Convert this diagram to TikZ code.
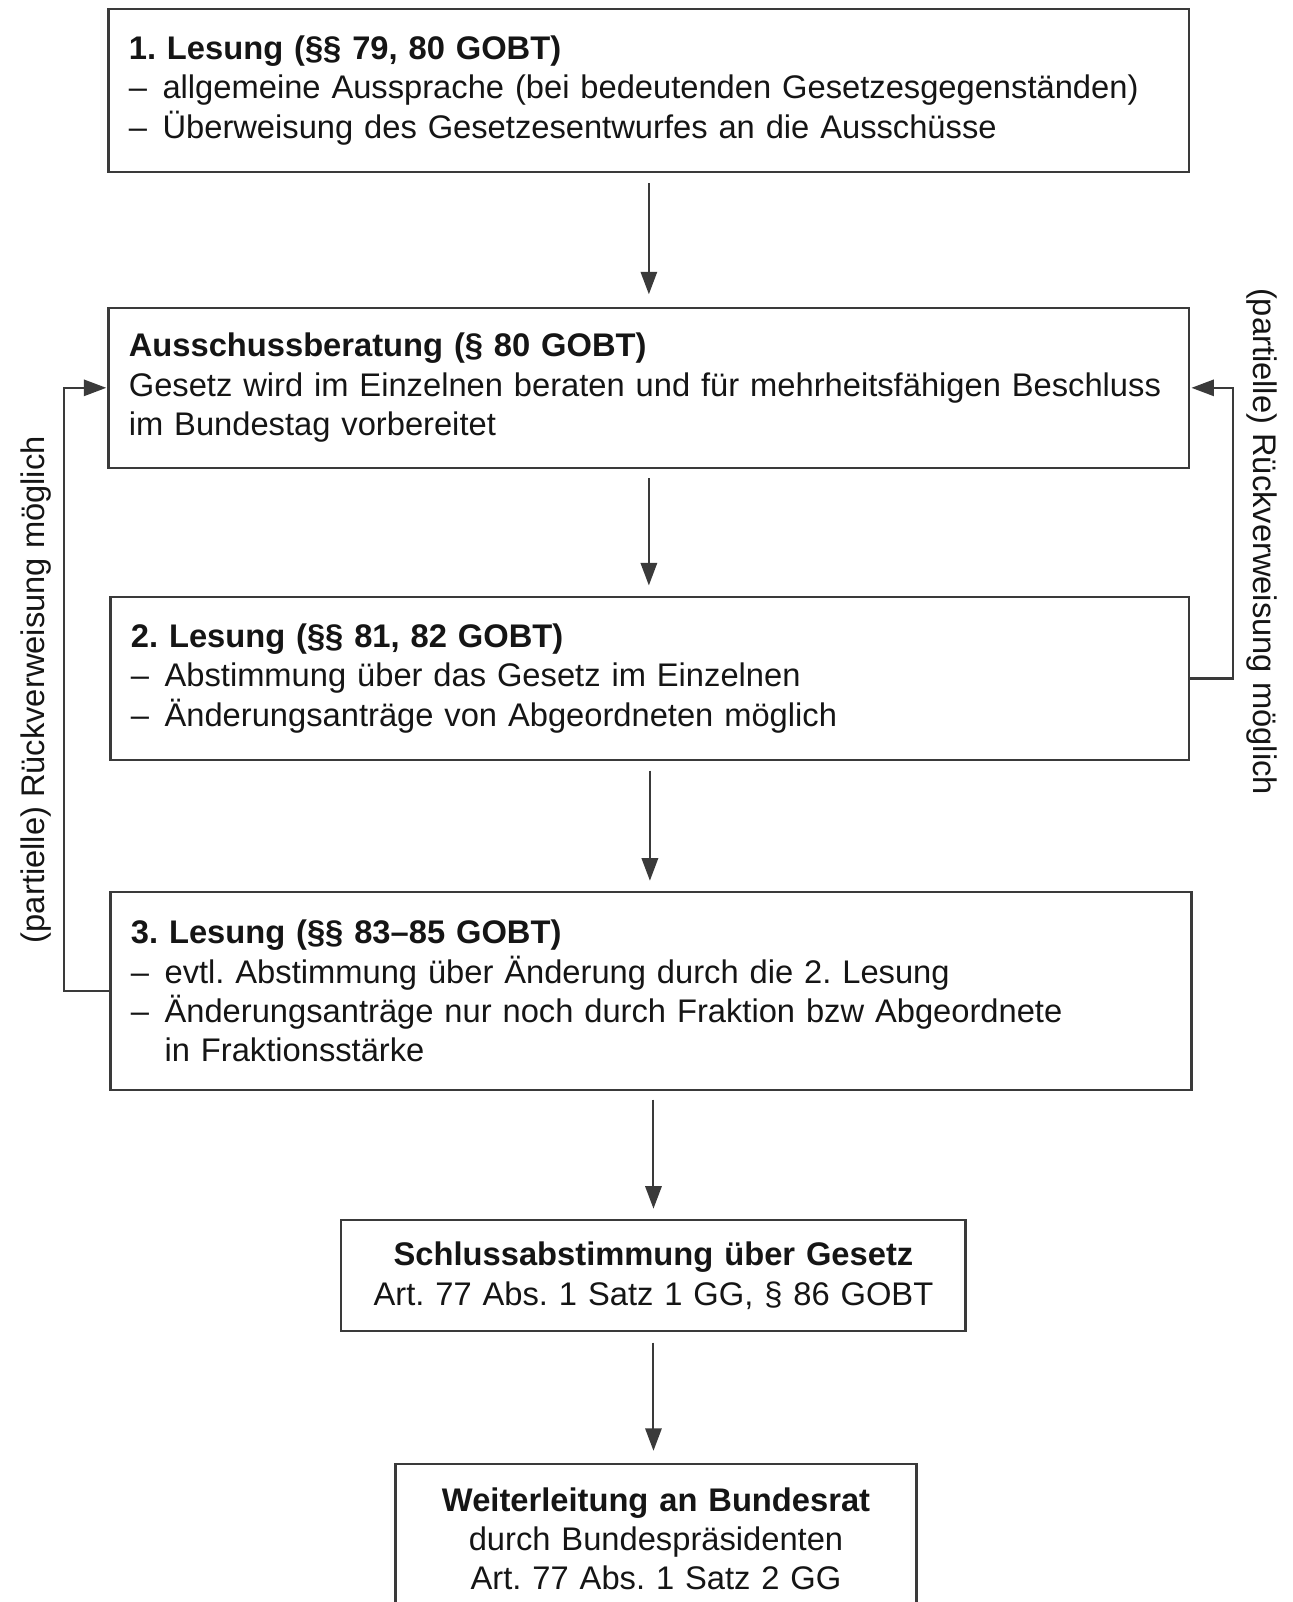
\documentclass[tikz,border=0pt]{standalone}
\usepackage{fontspec}
\setmainfont{Liberation Sans}
\usetikzlibrary{arrows.meta,calc}
\definecolor{boxc}{HTML}{3A3A3A}
\definecolor{txtc}{HTML}{151515}
\newcommand{\itm}[1]{\makebox[33pt][l]{–}#1}
\newcommand{\itmcont}[1]{\hspace*{33pt}#1}
\frenchspacing
\begin{document}
\begin{tikzpicture}[x=1pt,y=1pt,
  box/.style={draw=boxc, line width=2.2pt, inner xsep=20pt, inner ysep=3pt,
    anchor=north west, text=txtc, font=\fontsize{32}{38.5}\selectfont},
  arr/.style={draw=boxc, line width=2pt, -{Triangle[length=22pt,width=16pt]}},
  vlabel/.style={text=txtc, font=\fontsize{32}{38.5}\selectfont, inner sep=0pt}]
\path[use as bounding box] (0,0) rectangle (1265,-1568);
\clip (0,0) rectangle (1265,-1568);

\node[box, align=left, text width=1018pt, minimum width=1058pt, minimum height=159pt] (b1) at (105,-8)
  {\textbf{1. Lesung (§§ 79, 80 GOBT)}\\
   \itm{allgemeine Aussprache (bei bedeutenden Gesetzesgegenständen)}\\
   \itm{Überweisung des Gesetzesentwurfes an die Ausschüsse}};

\node[box, align=left, text width=1018pt, minimum width=1058pt, minimum height=157pt] (b2) at (105,-300)
  {\textbf{Ausschussberatung (§ 80 GOBT)}\\
   Gesetz wird im Einzelnen beraten und für mehrheitsfähigen Beschluss\\
   im Bundestag vorbereitet};

\node[box, align=left, text width=1016pt, minimum width=1056pt, minimum height=160pt] (b3) at (107,-583)
  {\textbf{2. Lesung (§§ 81, 82 GOBT)}\\
   \itm{Abstimmung über das Gesetz im Einzelnen}\\
   \itm{Änderungsanträge von Abgeordneten möglich}};

\node[box, align=left, text width=1018pt, minimum width=1058pt, minimum height=194pt] (b4) at (107,-872)
  {\textbf{3. Lesung (§§ 83–85 GOBT)}\\
   \itm{evtl. Abstimmung über Änderung durch die 2. Lesung}\\
   \itm{Änderungsanträge nur noch durch Fraktion bzw Abgeordnete}\\
   \itmcont{in Fraktionsstärke}};

\node[box, align=center, text width=571pt, minimum width=611pt, minimum height=109pt] (b5) at (333,-1193)
  {\textbf{Schlussabstimmung über Gesetz}\\
   Art. 77 Abs. 1 Satz 1 GG, § 86 GOBT};

\node[box, align=center, text width=470pt, minimum width=510pt, minimum height=146pt] (b6) at (386,-1432)
  {\textbf{Weiterleitung an Bundesrat}\\
   durch Bundespräsidenten\\
   Art. 77 Abs. 1 Satz 2 GG};

% main flow
\draw[arr, shorten <=10pt, shorten >=12pt] (b1.south) -- (b1.south |- b2.north);
\draw[arr, shorten <=9pt, shorten >=10pt] (b2.south) -- (b2.south |- b3.north);
\draw[arr, shorten <=9pt, shorten >=10pt] (b3.south) -- (b3.south |- b4.north);
\draw[arr, shorten <=8pt, shorten >=10pt] (b4.south -| b5.north) -- (b5.north);
\draw[arr, shorten <=10pt, shorten >=12pt] (b5.south) -- (b5.south |- b6.north);

% feedback loops
\coordinate (lx) at (63,0);
\coordinate (rx) at (1207,0);
\draw[arr, shorten >=1pt] (b4.west) -- (b4.west -| lx) |- (b2.west);
\draw[arr, shorten >=1pt] (b3.east) -- (b3.east -| rx) |- (b2.east);

\node[vlabel, rotate=90] (ll) at (35,-675) {(partielle) Rückverweisung möglich};
\node[vlabel, rotate=-90] (rl) at (1235,-530) {(partielle) Rückverweisung möglich};
\end{tikzpicture}
\end{document}
